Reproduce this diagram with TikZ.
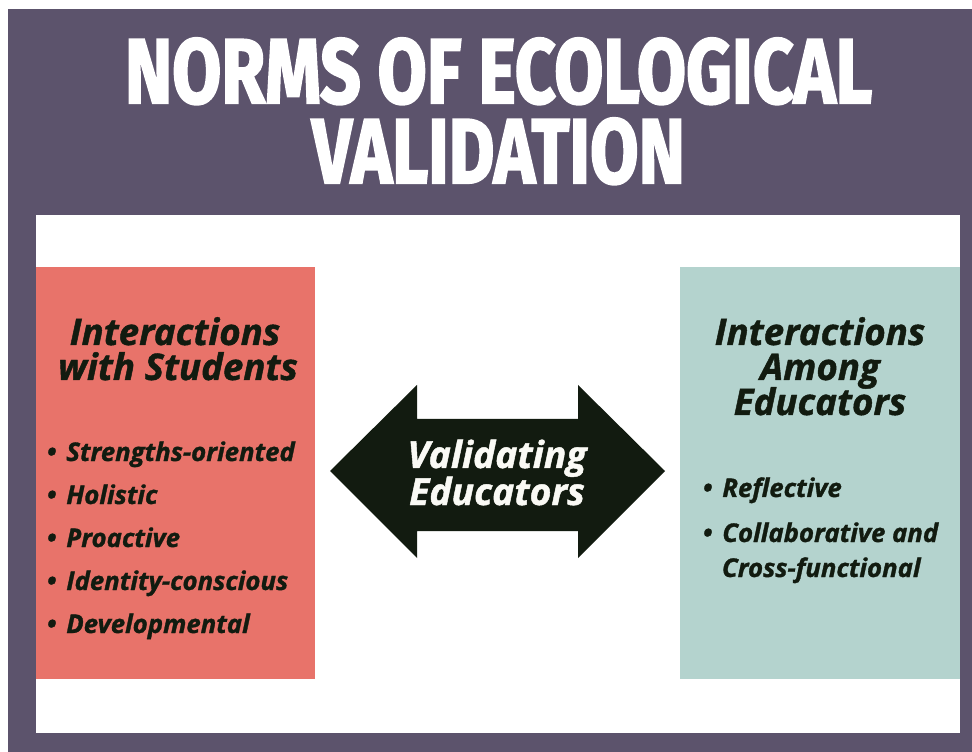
\documentclass[tikz,border=0pt]{standalone}
\usepackage{fontspec}
\usepackage{graphicx}
\setmainfont{Open Sans}
\newfontfamily\bodyfont{Open Sans}[BoldItalicFeatures={FakeBold=1.2}]
\newfontfamily\titlefont{Fira Sans}[BoldFeatures={FakeBold=2.5}]
\definecolor{purp}{HTML}{5C536C}
\definecolor{salmon}{HTML}{E8736A}
\definecolor{mint}{HTML}{B4D3CE}
\definecolor{dkgreen}{HTML}{121B10}
\definecolor{offwhite}{HTML}{FAFAF5}
\newcommand\bul{\makebox[14.5pt][l]{\textbullet}}
\tikzset{
  every node/.style={inner sep=0pt, outer sep=0pt},
  titletext/.style={anchor=base west, text=white, text height=48.75pt, text depth=0pt,
    font=\titlefont\bfseries},
  headtext/.style={anchor=base, text=dkgreen, text height=20pt, text depth=2pt,
    font=\bodyfont\bfseries\itshape\fontsize{27.5pt}{27.5pt}\selectfont},
  itemtext/.style={anchor=base west, text=dkgreen, font=\bodyfont\bfseries\itshape\fontsize{19.3pt}{19.3pt}\selectfont},
  arrowtext/.style={anchor=base, text=offwhite, text height=20pt, text depth=2pt,
    font=\bodyfont\bfseries\itshape\fontsize{28pt}{28pt}\selectfont},
}
\begin{document}
\begin{tikzpicture}[x=0.75pt,y=-0.75pt]
\useasboundingbox (0,0) rectangle (972,752);
\fill[white] (0,0) rectangle (972,752);
\fill[purp] (8,9) rectangle (972,752);
\fill[white] (36,215) rectangle (960,733);
\fill[salmon] (36,267) rectangle (315,679);
\fill[mint] (680,267) rectangle (960,679);
\fill[dkgreen] (330,471) -- (417,385) -- (417,419) -- (578,419) -- (578,385)
  -- (665,471) -- (578,558) -- (578,531) -- (417,531) -- (417,558) -- cycle;
% title
\node[titletext] (t1) at (125,103) {\resizebox{560.25pt}{48.75pt}{NORMS OF ECOLOGICAL}};
\node[titletext] (t2) at (312,183) {\resizebox{279.75pt}{48.75pt}{VALIDATION}};
% left box
\node[headtext] (lh1) at (175,345) {Interactions};
\node[headtext] (lh2) at (178,380) {with Students};
\node[itemtext] (l1) at (47,461) {\bul Strengths-oriented};
\node[itemtext] (l2) at (47,504) {\bul Holistic};
\node[itemtext] (l3) at (47,547) {\bul Proactive};
\node[itemtext] (l4) at (47,590) {\bul Identity-conscious};
\node[itemtext] (l5) at (47,633) {\bul Developmental};
% right box
\node[headtext] (rh1) at (820,345) {Interactions};
\node[headtext] (rh2) at (820,380) {Among};
\node[headtext] (rh3) at (820,415) {Educators};
\node[itemtext] (r1) at (703,497) {\bul Reflective};
\node[itemtext] (r2) at (703,542) {\bul Collaborative and};
\node[itemtext] (r3) at (722,577) {Cross-functional};
% arrow text
\node[arrowtext] (a1) at (497,468) {Validating};
\node[arrowtext] (a2) at (497,505) {Educators};
\end{tikzpicture}
\end{document}
